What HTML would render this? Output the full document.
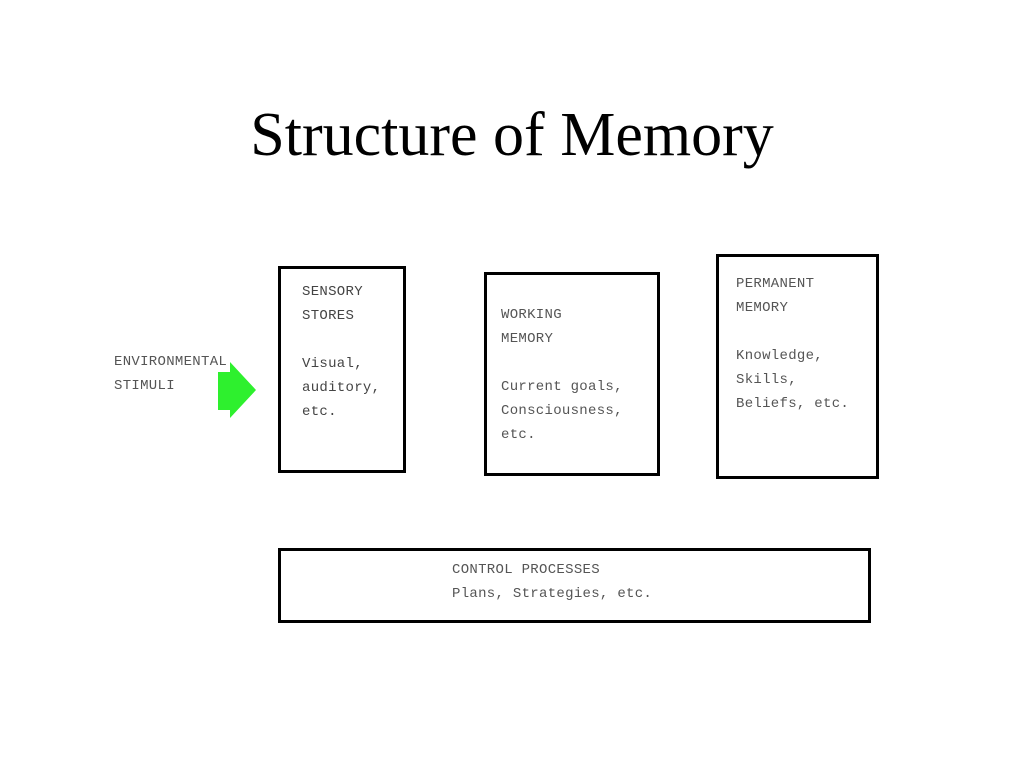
<!DOCTYPE html>
<html><head><style>
body{margin:0;width:1024px;height:768px;background:#fff;position:relative;overflow:hidden}
.t{position:absolute;left:0;width:1024px;top:100px;text-align:center;font:62px "Liberation Serif",serif;color:#000}
.b{position:absolute;border:3px solid #000;box-sizing:border-box}
.x{position:absolute;font:14px/24px "Liberation Mono",monospace;color:#555;white-space:pre;letter-spacing:0.3px}
</style></head><body>
<div class="t">Structure of Memory</div>
<div class="b" style="left:278px;top:266px;width:128px;height:207px"></div>
<div class="b" style="left:484px;top:272px;width:176px;height:204px"></div>
<div class="b" style="left:716px;top:254px;width:163px;height:225px"></div>
<div class="b" style="left:278px;top:548px;width:593px;height:75px"></div>
<div class="x" style="left:114px;top:350px">ENVIRONMENTAL
STIMULI</div>
<svg style="position:absolute;left:0;top:0" width="1024" height="768"><polygon points="218,372 230,372 230,362 256,390 230,418 230,410 218,410" fill="#2ef02e"/></svg>
<div class="x" style="left:302px;top:280px;color:#444">SENSORY
STORES

Visual,
auditory,
etc.</div>
<div class="x" style="left:501px;top:303px">WORKING
MEMORY

Current goals,
Consciousness,
etc.</div>
<div class="x" style="left:736px;top:272px">PERMANENT
MEMORY

Knowledge,
Skills,
Beliefs, etc.</div>
<div class="x" style="left:452px;top:558px">CONTROL PROCESSES
Plans, Strategies, etc.</div>
</body></html>
